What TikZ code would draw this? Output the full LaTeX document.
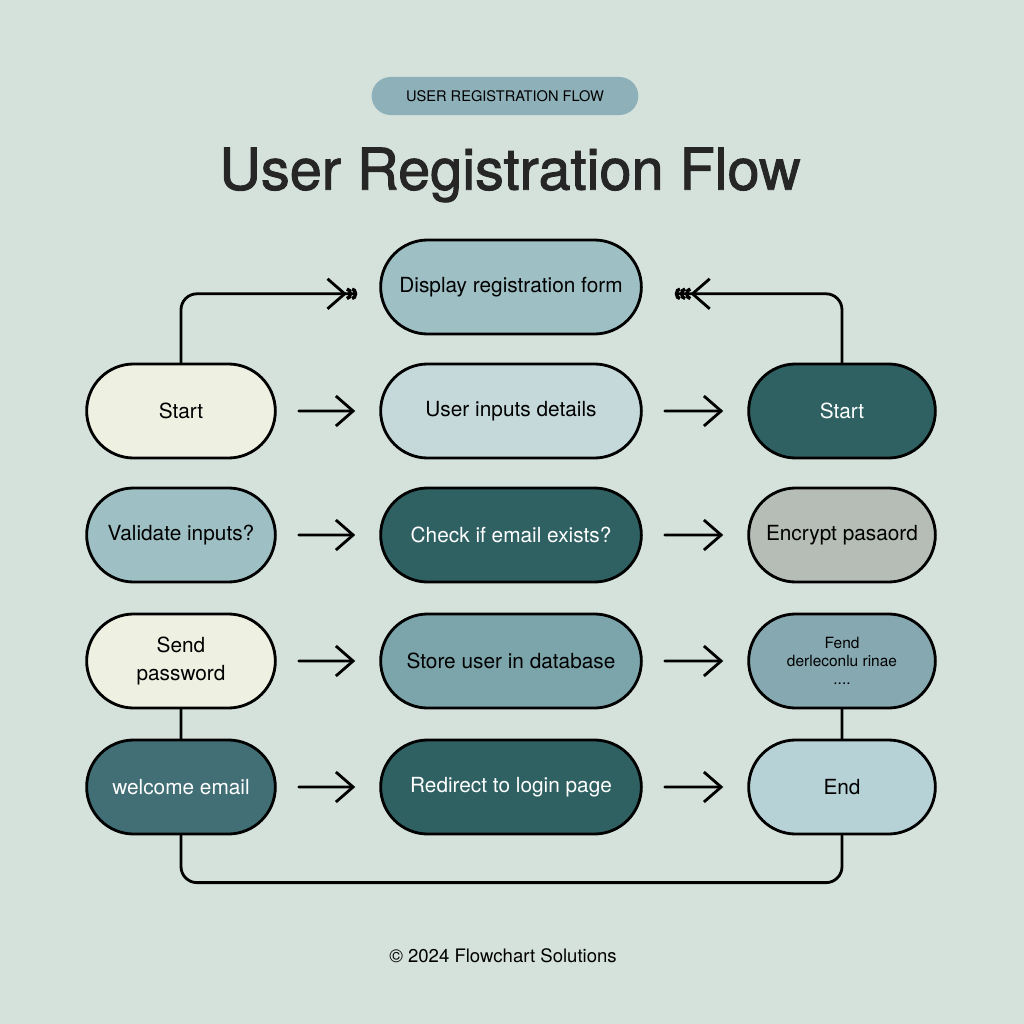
\documentclass[tikz,border=0pt]{standalone}
\usepackage{fontspec}
\setmainfont{TeX Gyre Heros}
\newfontfamily\headfont[FakeBold=1.6]{TeX Gyre Heros}
\usepackage{tikz}
\usetikzlibrary{arrows.meta}
\usetikzlibrary{shapes.misc}

\definecolor{bgcol}{HTML}{D5E2DC}
\definecolor{badgecol}{HTML}{8EB0B9}
\definecolor{cream}{HTML}{EEF0E2}
\definecolor{paleteal}{HTML}{C5D9DA}
\definecolor{lightteal}{HTML}{9EC0C4}
\definecolor{midteal}{HTML}{7BA5AB}
\definecolor{greyteal}{HTML}{86A9B1}
\definecolor{skyteal}{HTML}{B7D2D7}
\definecolor{stone}{HTML}{B5BDB6}
\definecolor{darkteal}{HTML}{2F6062}
\definecolor{slateteal}{HTML}{416F75}

\begin{document}
\begin{tikzpicture}[x=0.025cm,y=-0.025cm]
	\fill[bgcol] (0,0) rectangle (1024,1024);
	\useasboundingbox (0,0) rectangle (1024,1024);

	\node[rounded rectangle,fill=badgecol,minimum width=6.9cm,minimum height=0.95cm,
	      font=\fontsize{10.4}{12}\selectfont] (tag) at (505,96) {USER REGISTRATION FLOW};
	\node[font=\headfont\fontsize{41}{44}\selectfont,text=black!85] (title) at (510,175) {User Registration Flow};

	\begin{scope}[every node/.style={rounded rectangle,draw=black,line width=2pt,align=center,
	              minimum height=2.35cm,font=\fontsize{14.8}{17}\selectfont}]
		% left column
		\node[fill=cream,minimum width=4.95cm] (s1) at (181,411) {Start};
		\node[fill=lightteal,minimum width=4.95cm] (val) at (181,535) {Validate inputs?};
		\node[fill=cream,minimum width=4.95cm] (snd) at (181,661) {Send\\[3pt]password};
		\node[fill=slateteal,text=white,minimum width=4.95cm] (wel) at (181,787) {welcome email};
		% middle column
		\node[fill=lightteal,minimum width=6.75cm] (disp) at (511,287) {Display registration form};
		\node[fill=paleteal,minimum width=6.75cm] (inp) at (511,411) {User inputs details};
		\node[fill=darkteal,text=white,minimum width=6.75cm] (chk) at (511,535) {Check if email exists?};
		\node[fill=midteal,minimum width=6.75cm] (db) at (511,661) {Store user in database};
		\node[fill=darkteal,text=white,minimum width=6.75cm] (redir) at (511,787) {Redirect to login page};
		% right column
		\node[fill=darkteal,text=white,minimum width=4.9cm] (s2) at (842,411) {Start};
		\node[fill=stone,minimum width=4.9cm] (enc) at (842,535) {Encrypt pasaord};
		\node[fill=greyteal,minimum width=4.9cm,font=\fontsize{11}{13}\selectfont] (fend) at (842,661) {Fend\\derleconlu rinae\\....};
		\node[fill=skyteal,minimum width=4.9cm] (end) at (842,787) {End};
	\end{scope}

	\begin{scope}[>={Straight Barb[length=4.3mm,width=7.5mm]},
	              every edge/.style={draw=black,line width=2pt,line cap=round,
	              shorten <=0.55cm,shorten >=0.6cm}]
		\path (s1) edge[->] (inp);
		\path (inp) edge[->] (s2);
		\path (val) edge[->] (chk);
		\path (chk) edge[->] (enc);
		\path (snd) edge[->] (db);
		\path (db) edge[->] (fend);
		\path (wel) edge[->] (redir);
		\path (redir) edge[->] (end);
	\end{scope}

	\begin{scope}[line width=2pt,line cap=round,rounded corners=0.4cm]
		\draw[-{Straight Barb[length=4.3mm,width=7.5mm] Arc Barb[length=1.3mm,width=3.2mm,line width=2.4pt] Arc Barb[length=1.3mm,width=3.2mm,line width=2.4pt]},shorten >=0.55cm]
			(s1.north) |- ([yshift=-0.17cm]disp.west);
		\draw[-{Straight Barb[length=4.3mm,width=7.5mm] Arc Barb[length=1.3mm,width=3.2mm,line width=2.4pt] Arc Barb[length=1.3mm,width=3.2mm,line width=2.4pt] Arc Barb[length=1.3mm,width=3.2mm,line width=2.4pt]},shorten >=0.8cm]
			(s2.north) |- ([yshift=-0.17cm]disp.east);
		\draw (snd) -- (wel);
		\draw (fend) -- (end);
		\draw (wel.south) -- ([yshift=-1.18cm]wel.south) -| (end.south);
	\end{scope}

	\node[font=\fontsize{13.2}{15}\selectfont] (foot) at (503,956) {\textcopyright{} 2024 Flowchart Solutions};
\end{tikzpicture}
\end{document}
